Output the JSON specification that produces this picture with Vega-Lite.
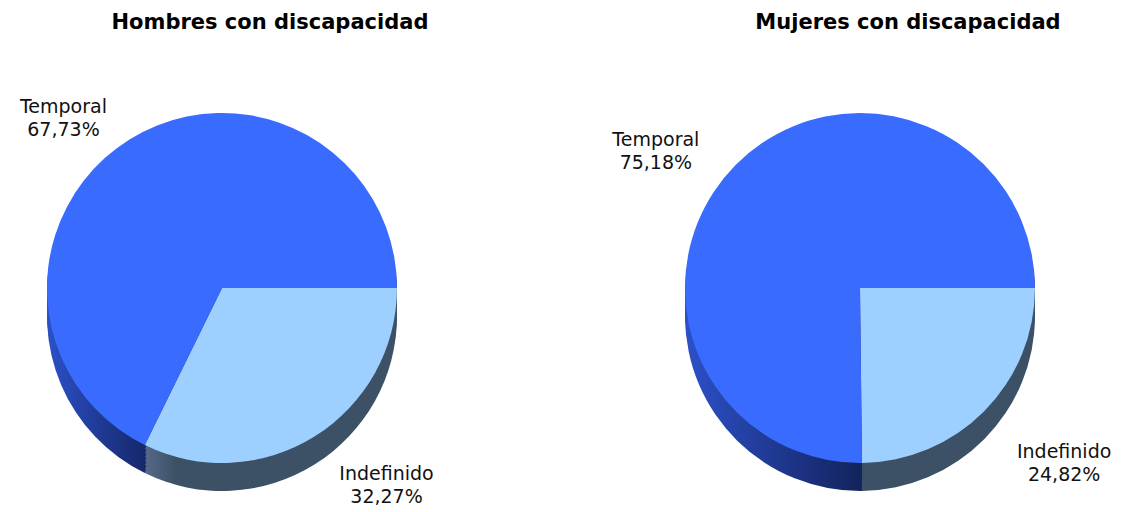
{
  "$schema": "https://vega.github.io/schema/vega-lite/v6.json",
  "padding": {"top": 12, "left": 0, "right": 0, "bottom": 0},
  "spacing": 154,
  "bounds": "flush",
  "background": "white",
  "config": {
    "view": {"stroke": null},
    "title": {"font": "DejaVu Sans", "fontSize": 21, "fontWeight": "bold", "color": "#000000", "offset": 10},
    "text": {"font": "DejaVu Sans"}
  },
  "hconcat": [
    {
      "title": {"text": "Hombres con discapacidad", "dx": 28},
      "width": 484,
      "height": 466,
      "data": {"values": [
        {"tipo": "Indefinido", "pct": 32.27, "orden": 1, "etiqueta": "Indefinido\n32,27%"},
        {"tipo": "Temporal", "pct": 67.73, "orden": 2, "etiqueta": "Temporal\n67,73%"}
      ]},
      "encoding": {
        "theta": {"field": "pct", "type": "quantitative", "stack": true, "scale": {"range": [1.5708, 7.854]}},
        "order": {"field": "orden", "type": "quantitative"}
      },
      "layer": [
        {"mark": {"type": "arc", "radius": 175, "xOffset": -20, "yOffset": 40},
         "encoding": {"fill": {"condition": {"test": "datum.tipo === 'Temporal'", "value": {"gradient": "linear", "x1": 0, "x2": 1, "y1": 0, "y2": 0, "stops": [{"offset": 0, "color": "#2c50c8"}, {"offset": 0.28, "color": "#15286a"}, {"offset": 1, "color": "#15286a"}]}}, "value": {"gradient": "linear", "x1": 0, "x2": 1, "y1": 0, "y2": 0, "stops": [{"offset": 0, "color": "#56698a"}, {"offset": 0.12, "color": "#3d5166"}, {"offset": 1, "color": "#3d5166"}]}}}},
        {"mark": {"type": "arc", "radius": 175, "xOffset": -20, "yOffset": 36},
         "encoding": {"fill": {"condition": {"test": "datum.tipo === 'Temporal'", "value": {"gradient": "linear", "x1": 0, "x2": 1, "y1": 0, "y2": 0, "stops": [{"offset": 0, "color": "#2c50c8"}, {"offset": 0.28, "color": "#15286a"}, {"offset": 1, "color": "#15286a"}]}}, "value": {"gradient": "linear", "x1": 0, "x2": 1, "y1": 0, "y2": 0, "stops": [{"offset": 0, "color": "#56698a"}, {"offset": 0.12, "color": "#3d5166"}, {"offset": 1, "color": "#3d5166"}]}}}},
        {"mark": {"type": "arc", "radius": 175, "xOffset": -20, "yOffset": 32},
         "encoding": {"fill": {"condition": {"test": "datum.tipo === 'Temporal'", "value": {"gradient": "linear", "x1": 0, "x2": 1, "y1": 0, "y2": 0, "stops": [{"offset": 0, "color": "#2c50c8"}, {"offset": 0.28, "color": "#15286a"}, {"offset": 1, "color": "#15286a"}]}}, "value": {"gradient": "linear", "x1": 0, "x2": 1, "y1": 0, "y2": 0, "stops": [{"offset": 0, "color": "#56698a"}, {"offset": 0.12, "color": "#3d5166"}, {"offset": 1, "color": "#3d5166"}]}}}},
        {"mark": {"type": "arc", "radius": 175, "xOffset": -20, "yOffset": 28},
         "encoding": {"fill": {"condition": {"test": "datum.tipo === 'Temporal'", "value": {"gradient": "linear", "x1": 0, "x2": 1, "y1": 0, "y2": 0, "stops": [{"offset": 0, "color": "#2c50c8"}, {"offset": 0.28, "color": "#15286a"}, {"offset": 1, "color": "#15286a"}]}}, "value": {"gradient": "linear", "x1": 0, "x2": 1, "y1": 0, "y2": 0, "stops": [{"offset": 0, "color": "#56698a"}, {"offset": 0.12, "color": "#3d5166"}, {"offset": 1, "color": "#3d5166"}]}}}},
        {"mark": {"type": "arc", "radius": 175, "xOffset": -20, "yOffset": 24},
         "encoding": {"fill": {"condition": {"test": "datum.tipo === 'Temporal'", "value": {"gradient": "linear", "x1": 0, "x2": 1, "y1": 0, "y2": 0, "stops": [{"offset": 0, "color": "#2c50c8"}, {"offset": 0.28, "color": "#15286a"}, {"offset": 1, "color": "#15286a"}]}}, "value": {"gradient": "linear", "x1": 0, "x2": 1, "y1": 0, "y2": 0, "stops": [{"offset": 0, "color": "#56698a"}, {"offset": 0.12, "color": "#3d5166"}, {"offset": 1, "color": "#3d5166"}]}}}},
        {"mark": {"type": "arc", "radius": 175, "xOffset": -20, "yOffset": 20},
         "encoding": {"fill": {"condition": {"test": "datum.tipo === 'Temporal'", "value": {"gradient": "linear", "x1": 0, "x2": 1, "y1": 0, "y2": 0, "stops": [{"offset": 0, "color": "#2c50c8"}, {"offset": 0.28, "color": "#15286a"}, {"offset": 1, "color": "#15286a"}]}}, "value": {"gradient": "linear", "x1": 0, "x2": 1, "y1": 0, "y2": 0, "stops": [{"offset": 0, "color": "#56698a"}, {"offset": 0.12, "color": "#3d5166"}, {"offset": 1, "color": "#3d5166"}]}}}},
        {"mark": {"type": "arc", "radius": 175, "xOffset": -20, "yOffset": 16},
         "encoding": {"fill": {"condition": {"test": "datum.tipo === 'Temporal'", "value": {"gradient": "linear", "x1": 0, "x2": 1, "y1": 0, "y2": 0, "stops": [{"offset": 0, "color": "#2c50c8"}, {"offset": 0.28, "color": "#15286a"}, {"offset": 1, "color": "#15286a"}]}}, "value": {"gradient": "linear", "x1": 0, "x2": 1, "y1": 0, "y2": 0, "stops": [{"offset": 0, "color": "#56698a"}, {"offset": 0.12, "color": "#3d5166"}, {"offset": 1, "color": "#3d5166"}]}}}},
        {"mark": {"type": "arc", "radius": 175, "xOffset": -20, "yOffset": 12},
         "encoding": {"color": {"field": "tipo", "type": "nominal", "legend": null, "scale": {"domain": ["Temporal", "Indefinido"], "range": ["#3a6bff", "#9dcfff"]}}}},
        {"mark": {"type": "text", "radius": 228, "xOffset": -20, "yOffset": 12, "dx": {"expr": "datum.tipo === 'Temporal' ? -38 : 44"}, "dy": {"expr": "datum.tipo === 'Temporal' ? 13 : -8"}, "fontSize": 19, "lineHeight": 23, "lineBreak": "\n", "align": "center", "baseline": "middle", "color": "#111111"},
         "encoding": {"text": {"field": "etiqueta", "type": "nominal"}}}
      ]
    },
    {
      "title": {"text": "Mujeres con discapacidad", "dx": 28},
      "width": 484,
      "height": 466,
      "data": {"values": [
        {"tipo": "Indefinido", "pct": 24.82, "orden": 1, "etiqueta": "Indefinido\n24,82%"},
        {"tipo": "Temporal", "pct": 75.18, "orden": 2, "etiqueta": "Temporal\n75,18%"}
      ]},
      "encoding": {
        "theta": {"field": "pct", "type": "quantitative", "stack": true, "scale": {"range": [1.5708, 7.854]}},
        "order": {"field": "orden", "type": "quantitative"}
      },
      "layer": [
        {"mark": {"type": "arc", "radius": 175, "xOffset": -20, "yOffset": 40},
         "encoding": {"fill": {"condition": {"test": "datum.tipo === 'Temporal'", "value": {"gradient": "linear", "x1": 0, "x2": 1, "y1": 0, "y2": 0, "stops": [{"offset": 0, "color": "#2c50c8"}, {"offset": 0.5, "color": "#13235e"}, {"offset": 1, "color": "#13235e"}]}}, "value": "#3d5166"}}},
        {"mark": {"type": "arc", "radius": 175, "xOffset": -20, "yOffset": 36},
         "encoding": {"fill": {"condition": {"test": "datum.tipo === 'Temporal'", "value": {"gradient": "linear", "x1": 0, "x2": 1, "y1": 0, "y2": 0, "stops": [{"offset": 0, "color": "#2c50c8"}, {"offset": 0.5, "color": "#13235e"}, {"offset": 1, "color": "#13235e"}]}}, "value": "#3d5166"}}},
        {"mark": {"type": "arc", "radius": 175, "xOffset": -20, "yOffset": 32},
         "encoding": {"fill": {"condition": {"test": "datum.tipo === 'Temporal'", "value": {"gradient": "linear", "x1": 0, "x2": 1, "y1": 0, "y2": 0, "stops": [{"offset": 0, "color": "#2c50c8"}, {"offset": 0.5, "color": "#13235e"}, {"offset": 1, "color": "#13235e"}]}}, "value": "#3d5166"}}},
        {"mark": {"type": "arc", "radius": 175, "xOffset": -20, "yOffset": 28},
         "encoding": {"fill": {"condition": {"test": "datum.tipo === 'Temporal'", "value": {"gradient": "linear", "x1": 0, "x2": 1, "y1": 0, "y2": 0, "stops": [{"offset": 0, "color": "#2c50c8"}, {"offset": 0.5, "color": "#13235e"}, {"offset": 1, "color": "#13235e"}]}}, "value": "#3d5166"}}},
        {"mark": {"type": "arc", "radius": 175, "xOffset": -20, "yOffset": 24},
         "encoding": {"fill": {"condition": {"test": "datum.tipo === 'Temporal'", "value": {"gradient": "linear", "x1": 0, "x2": 1, "y1": 0, "y2": 0, "stops": [{"offset": 0, "color": "#2c50c8"}, {"offset": 0.5, "color": "#13235e"}, {"offset": 1, "color": "#13235e"}]}}, "value": "#3d5166"}}},
        {"mark": {"type": "arc", "radius": 175, "xOffset": -20, "yOffset": 20},
         "encoding": {"fill": {"condition": {"test": "datum.tipo === 'Temporal'", "value": {"gradient": "linear", "x1": 0, "x2": 1, "y1": 0, "y2": 0, "stops": [{"offset": 0, "color": "#2c50c8"}, {"offset": 0.5, "color": "#13235e"}, {"offset": 1, "color": "#13235e"}]}}, "value": "#3d5166"}}},
        {"mark": {"type": "arc", "radius": 175, "xOffset": -20, "yOffset": 16},
         "encoding": {"fill": {"condition": {"test": "datum.tipo === 'Temporal'", "value": {"gradient": "linear", "x1": 0, "x2": 1, "y1": 0, "y2": 0, "stops": [{"offset": 0, "color": "#2c50c8"}, {"offset": 0.5, "color": "#13235e"}, {"offset": 1, "color": "#13235e"}]}}, "value": "#3d5166"}}},
        {"mark": {"type": "arc", "radius": 175, "xOffset": -20, "yOffset": 12},
         "encoding": {"color": {"field": "tipo", "type": "nominal", "legend": null, "scale": {"domain": ["Temporal", "Indefinido"], "range": ["#3a6bff", "#9dcfff"]}}}},
        {"mark": {"type": "text", "radius": 228, "xOffset": -20, "yOffset": 12, "dx": {"expr": "datum.tipo === 'Temporal' ? -42 : 42"}, "dy": {"expr": "datum.tipo === 'Temporal' ? 12 : 4"}, "fontSize": 19, "lineHeight": 23, "lineBreak": "\n", "align": "center", "baseline": "middle", "color": "#111111"},
         "encoding": {"text": {"field": "etiqueta", "type": "nominal"}}}
      ]
    }
  ]
}
